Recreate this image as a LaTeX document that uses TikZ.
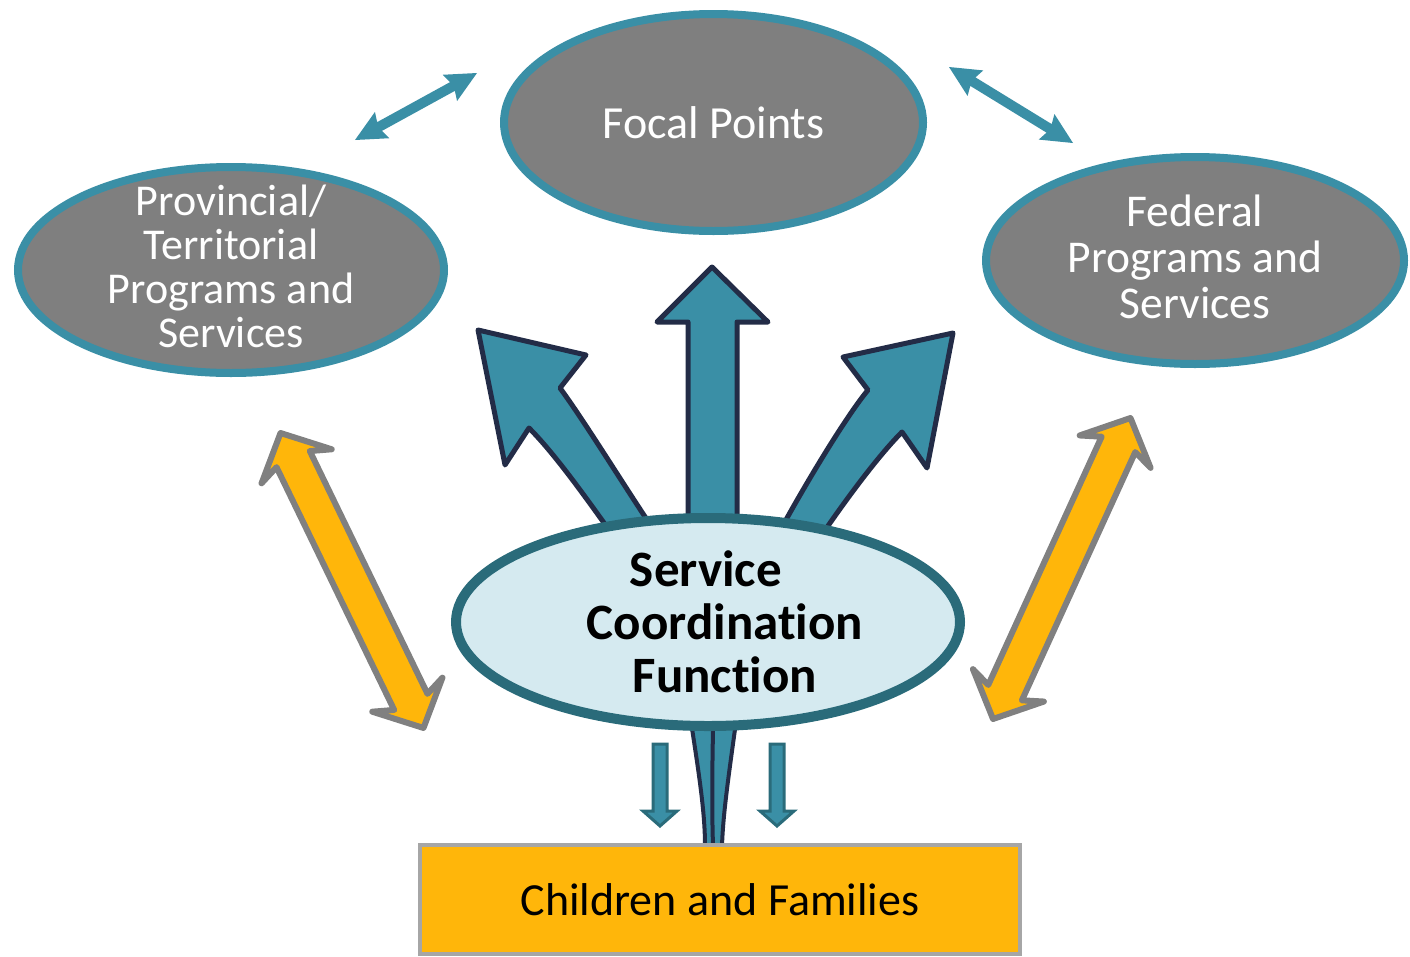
\documentclass[tikz,border=0pt]{standalone}
\usepackage{fontspec}
\setmainfont{Carlito}[Ligatures=NoCommon]
\usetikzlibrary{shapes.geometric,calc}

\definecolor{tealfill}{HTML}{3A8FA6}
\definecolor{navyline}{HTML}{232C47}
\definecolor{hubline}{HTML}{2A6B7A}
\definecolor{hubfill}{HTML}{D5EAF0}
\definecolor{ovalfill}{HTML}{7F7F7F}
\definecolor{goldfill}{HTML}{FFB60A}
\definecolor{goldline}{HTML}{808080}
\definecolor{boxline}{HTML}{A6A6A6}

% double headed fat arrow between two named points
% #1 style, #2 from, #3 to, #4 shaft half width, #5 head half width, #6 head length, #7 head indent
\newcommand{\bothways}[7]{%
  \path[#1] let \p1=(#2), \p2=(#3),
      \n1={atan2((\y2)-(\y1),(\x2)-(\x1))},
      \n2={veclen((\x2)-(\x1),(\y2)-(\y1))} in
    [shift={(\p1)},rotate=\n1]
    (0pt,0pt) -- ({#6pt},{#5pt}) -- ({#6pt-#7pt},{#4pt})
    -- ({\n2-#6pt+#7pt},{#4pt}) -- ({\n2-#6pt},{#5pt}) -- ({\n2},0pt)
    -- ({\n2-#6pt},{-#5pt}) -- ({\n2-#6pt+#7pt},{-#4pt})
    -- ({#6pt-#7pt},{-#4pt}) -- ({#6pt},{-#5pt}) -- cycle;}

\begin{document}
\begin{tikzpicture}[x=1pt,y=-1pt,
    oval/.style={ellipse,draw=tealfill,fill=ovalfill,line width=8pt,inner sep=0pt},
    ovaltext/.style={text=white,align=center,inner sep=0pt},
    hub/.style={ellipse,draw=hubline,fill=hubfill,line width=10pt,inner sep=0pt},
    hubtext/.style={align=center,inner sep=0pt,font=\bfseries\fontsize{51}{53}\selectfont},
    fatarrow/.style={fill=tealfill,draw=navyline,line width=5pt,line join=round},
    droparrow/.style={fill=tealfill,draw=hubline,line width=3pt},
    tealway/.style={fill=tealfill},
    goldway/.style={fill=goldfill,draw=goldline,line width=6pt,line join=round}]

  \useasboundingbox (0,0) rectangle (1410,956);

  % arrows leaving the hub (drawn first, the hub covers their feet)
  \path[fatarrow] (712,267) -- (768,322) -- (737,322) -- (737,545)
    -- (688,545) -- (688,322) -- (657,322) -- cycle;
  \path[fatarrow] (478,330) -- (586,355) -- (560,388)
    .. controls (588,426) and (639,510) .. (661,540) -- (620,545)
    .. controls (595,511) and (559,458) .. (529,428) -- (505,465) -- cycle;
  \path[fatarrow] (953,333) -- (927,468) -- (902,432)
    .. controls (874,460) and (835,515) .. (815,545) -- (775,540)
    .. controls (795,502) and (843,420) .. (868,390) -- (843,357) -- cycle;

  % stem down to the families
  \path[fatarrow,line width=4pt] (691,722) .. controls (700,780) and (705,815) .. (705,846)
    -- (722,846) .. controls (723,815) and (728,780) .. (736,722) -- cycle;
  \draw[navyline,line width=4pt] (713,730) .. controls (712,780) and (712,815) .. (713,846);

  % the four ovals
  \node[oval,minimum width=419pt,minimum height=217pt] (focal) at (713.5,122.5) {};
  \node[oval,minimum width=426pt,minimum height=206pt] (prov) at (231,270) {};
  \node[oval,minimum width=418pt,minimum height=207pt] (fed) at (1195,260.5) {};
  \node[hub,minimum width=504pt,minimum height=208pt] (scf) at (708,622) {};

  \node[ovaltext,font=\fontsize{46}{46}\selectfont] (focal-txt) at (focal.center) {Focal Points};
  \node[ovaltext,font=\fontsize{44}{44}\selectfont] (prov-txt) at ([yshift=4pt]prov.center)
    {Provincial/\\Territorial\\Programs and\\Services};
  \node[ovaltext,font=\fontsize{45.5}{46}\selectfont] (fed-txt) at ([yshift=3.5pt]fed.center)
    {Federal\\Programs and\\Services};
  \node[hubtext] (scf-txt) at ([xshift=17pt]scf.center)
    {Service\kern38pt\\Coordination\\Function};

  \node[draw=boxline,fill=goldfill,line width=4pt,minimum width=600pt,minimum height=109pt,
    inner sep=0pt,font=\fontsize{46}{46}\selectfont] (kids) at (720,899.5) {Children and Families};

  % two small arrows down
  \path[droparrow] (653,744) -- (667,744) -- (667,811) -- (677,811) -- (660,826)
    -- (643,811) -- (653,811) -- cycle;
  \path[droparrow] (770,744) -- (784,744) -- (784,811) -- (794,811) -- (777,826)
    -- (760,811) -- (770,811) -- cycle;

  % two way links
  \coordinate (fp-a) at (355,140);
  \coordinate (fp-b) at (477,73);
  \coordinate (ff-a) at (949,67);
  \coordinate (ff-b) at (1073,143);
  \coordinate (pt-a) at (280.5,433);
  \coordinate (pt-b) at (423.5,728);
  \coordinate (fd-a) at (1130.5,418);
  \coordinate (fd-b) at (993,719);

  \bothways{tealway}{fp-a}{fp-b}{5}{15}{31}{3}
  \bothways{tealway}{ff-a}{ff-b}{5}{15}{31}{3}
  \bothways{goldway}{pt-a}{pt-b}{18.5}{39}{37}{8}
  \bothways{goldway}{fd-a}{fd-b}{18.5}{39}{37}{8}
\end{tikzpicture}
\end{document}
